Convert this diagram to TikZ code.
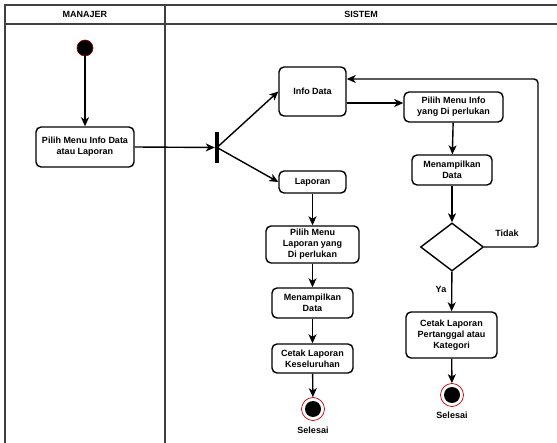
\documentclass[tikz,border=0pt]{standalone}
\usepackage{fontspec}
\setmainfont{Liberation Sans}
\usetikzlibrary{arrows.meta,shapes.geometric,calc}
\begin{document}
\begin{tikzpicture}[x=1pt,y=-1pt,
 act/.style={draw, line width=1.4pt, rounded corners=5pt, align=center, font=\bfseries\fontsize{9}{11}\selectfont, inner sep=0pt},
 arr/.style={line width=1.4pt, -{Stealth[length=9pt,width=8pt,inset=2.5pt]}},
 lane/.style={draw=black!75, line width=1.5pt},
 lbl/.style={font=\bfseries\fontsize{9}{11}\selectfont},
 startnode/.style={circle, fill=black, draw=red!60!black, line width=0.6pt, minimum size=16pt, inner sep=0pt},
 endnode/.style={circle, fill=white, draw=red!75!black, line width=0.7pt, minimum size=23pt, inner sep=0pt},
 forkbar/.style={rectangle, fill=black, minimum width=4pt, minimum height=31pt, inner sep=0pt}
]
\useasboundingbox (0,0) rectangle (557,443);
% swimlanes
\draw[lane] (557,5) -- (5,5) -- (5,443);
\draw[lane] (5,24) -- (557,24);
\draw[lane] (165,5) -- (165,443);
\node[lbl] (hm) at (85,14.5) {MANAJER};
\node[lbl] (hs) at (361,14.5) {SISTEM};
% nodes
\node[startnode] (start) at (85,48) {};
\node[act, minimum width=98pt, minimum height=40pt] (pmida) at (85,147) {Pilih Menu Info Data\\atau Laporan};
\node[forkbar] (fork) at (217,147.5) {};
\node[act, minimum width=67pt, minimum height=49pt] (info) at (312.5,91.5) {Info Data};
\node[act, minimum width=67pt, minimum height=22pt] (lap) at (312.5,182) {Laporan};
\node[act, minimum width=93pt, minimum height=37pt] (pml) at (312.5,244.5) {Pilih Menu\\Laporan yang\\Di perlukan};
\node[act, minimum width=81pt, minimum height=30pt] (mdl) at (312.5,303) {Menampilkan\\Data};
\node[act, minimum width=81pt, minimum height=29pt] (ckl) at (312.5,358.5) {Cetak Laporan\\Keseluruhan};
\node[endnode] (e1) at (313,409) {};
\fill (e1.center) circle (8pt);
\node[lbl] (s1) at (313,430) {Selesai};
\node[act, minimum width=99pt, minimum height=30pt] (pmi) at (453.5,107) {Pilih Menu Info\\yang Di perlukan};
\node[act, minimum width=80pt, minimum height=30pt] (mdr) at (452,170) {Menampilkan\\Data};
\node[diamond, draw, line width=1.4pt, minimum width=63pt, minimum height=48pt, inner sep=0pt] (dia) at (452,247) {};
\node[act, minimum width=91pt, minimum height=46pt] (ckr) at (451.5,335) {Cetak Laporan\\Pertanggal atau\\Kategori};
\node[endnode] (e2) at (452,395) {};
\fill (e2.center) circle (8pt);
\node[lbl] (s2) at (452,415) {Selesai};
\node[lbl] (ya) at (441,289) {Ya};
\node[lbl] (tidak) at (507,233) {Tidak};
% helper coordinates
\coordinate (y103) at (0,103);
\coordinate (loopc) at (538,79);
% connectors
\draw[arr] (start) -- (pmida);
\draw[arr] (pmida.east) -- (fork.west);
\draw[arr] (fork.center) -- (info.west);
\draw[arr] (fork.center) -- (lap.west);
\draw[arr] (info.east |- y103) -- (pmi.west |- y103);
\draw[arr] (lap) -- (pml);
\draw[arr] (pml) -- (mdl);
\draw[arr] (mdl) -- (ckl);
\draw[arr] (ckl) -- (e1);
\draw[arr] (pmi) -- (mdr);
\draw[arr] (mdr) -- (dia);
\draw[arr] (dia) -- (ckr);
\draw[arr] (ckr) -- (e2);
\draw[arr, rounded corners=4pt] (dia.east) -- (dia.east -| loopc) -- (loopc) -- (info.east |- loopc);
\end{tikzpicture}
\end{document}
